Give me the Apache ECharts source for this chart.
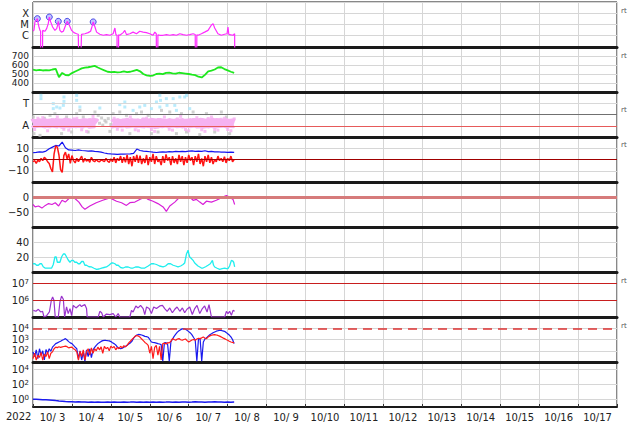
<!DOCTYPE html>
<html><head><meta charset="utf-8">
<script src="https://cdn.jsdelivr.net/npm/echarts@6/dist/echarts.min.js"></script>
<style>html,body{margin:0;padding:0;background:#fff}#c{width:634px;height:424px}</style>
</head><body><div id="c"></div>
<script>
// time in hours from 2022-10-03 00:00
const dayLabels = ['10/ 3','10/ 4','10/ 5','10/ 6','10/ 7','10/ 8','10/ 9','10/10','10/11','10/12','10/13','10/14','10/15','10/16','10/17'];
const dayLabelHours = [12,36,60,84,108,132,156,180,204,228,252,276,300,324,348];

// Panel 1: X-ray flux [h, W/m2]
const xray = [[0,2.6e-6],[0.6,3.2e-6],[1.2,1.7e-5],[2.0,2.5e-5],[2.67,3.3e-5],[3.2,1.2e-5],[3.7,6e-6],[4.3,3e-6],[4.7,2.6e-6],[4.8,1e-9],[5.8,1e-9],[5.95,3e-6],[6.7,2.7e-6],[7.4,2.5e-6],[8.4,4.3e-6],[9.4,1.2e-5],[10.05,4.6e-5],[10.9,1.7e-5],[12.1,6e-6],[13.5,3e-6],[14.6,4.3e-6],[15.1,8e-6],[15.6,1.9e-5],[16.2,6e-6],[16.6,3e-6],[17.6,2.1e-6],[18.7,2.5e-6],[19.7,6e-6],[20.5,1.2e-5],[21.1,1.9e-5],[22.4,8.5e-6],[23.8,3e-6],[25.2,1.9e-6],[26.9,1.5e-6],[27.9,1.35e-6],[28.3,1e-9],[29.3,1e-9],[29.9,1.35e-6],[32,1.5e-6],[34,1.9e-6],[35.5,2.5e-6],[36.3,6e-6],[37.1,1.7e-5],[38.2,6e-6],[39.2,2.1e-6],[41.2,1.35e-6],[43.3,1.1e-6],[45.3,1.26e-6],[47.4,1.1e-6],[49.4,1.5e-6],[50.5,4.9e-6],[51.1,1.26e-6],[51.8,1.1e-6],[51.9,1e-9],[52.7,1e-9],[52.8,1.2e-6],[53.5,1.1e-6],[55.6,1.9e-6],[56.6,3e-6],[57.6,1.26e-6],[59.7,1.5e-6],[61.7,2.1e-6],[63.8,1.5e-6],[65.8,2.5e-6],[67.9,2.1e-6],[69.9,1.9e-6],[72,1.5e-6],[74,1.1e-6],[75.1,2.1e-6],[76,1.5e-6],[76.1,1e-9],[76.9,1e-9],[77,1.2e-6],[78.2,1.1e-6],[80.2,1.1e-6],[82.3,1.26e-6],[84.3,1.1e-6],[86.4,1.26e-6],[88.4,1.1e-6],[90.5,1.5e-6],[92.5,1.26e-6],[94.6,1.1e-6],[96.6,1.26e-6],[98.7,1.5e-6],[100,1.3e-6],[100.1,1e-9],[100.9,1e-9],[101,1.2e-6],[101.7,1.1e-6],[103.8,1.5e-6],[105.8,2.1e-6],[107.9,3e-6],[109.9,8.5e-6],[111,1.2e-5],[112,4.9e-6],[114,1.5e-6],[116.1,1.1e-6],[118.1,1.35e-6],[119.6,1.5e-6],[120.2,6e-6],[120.7,1.3e-6],[121.2,1.26e-6],[123.3,1.1e-6],[124.3,1.5e-6],[124.4,1e-9]];
const flares = [[2.67,3.3e-5],[10.05,4.6e-5],[15.6,1.9e-5],[21.1,1.9e-5],[37.1,1.7e-5]];

// Panel 2: solar wind speed, every 2 h
const speed2h = [548,541,546,539,544,540,550,557,465,512,488,486,510,528,545,562,570,575,582,590,572,556,540,525,520,524,518,522,528,520,525,535,545,530,500,485,478,483,500,505,498,512,515,508,503,514,510,505,500,492,487,470,462,490,530,538,550,572,575,555,540,525,512];

// Panel 3: IMF angle (deg): hourly away-band centre, plus scattered points
const awayBand = [105,112,98,115,108,120,102,110,118,100,112,106,122,98,110,115,104,118,108,100,114,120,106,110,102,116,108,112,100,118,106,110,114,104,120,108,100,112,116,106,
null,null,null,null,null,null,null,null,null,
110,104,118,108,112,100,115,106,120,110,102,114,108,118,104,112,106,116,100,110,120,108,114,104,112,118,106,102,110,116,108,112,104,120,106,110,114,100,118,108,112,104,116,110,106,120,102,112,108,114,106,118,110,104,112,116,108,100,114,110,106,118,112,104,110,116,108,114,102,118,110,106,116,104,112,108];
const awayFuzz = [[1,60],[3,150],[6,155],[9,50],[12,140],[15,160],[19,62],[22,55],[25,145],[27,150],[30,58],[33,45],[35,140],[37,165],[50,150],[52,62],[55,55],[58,142],[60,160],[63,58],[65,50],[68,145],[70,150],[73,60],[75,45],[78,140],[81,160],[84,62],[86,55],[89,145],[91,165],[94,60],[96,50],[99,140],[101,155],[104,58],[106,45],[108,148],[110,160],[112,62],[114,55],[116,142],[118,150],[120,60],[122,50],[124,145]];
const greyPts = [[0.2,160],[0.6,27],[4.3,13],[7,150],[10.5,173],[13.5,187],[17.6,27],[20.7,160],[23.8,40],[26.9,187],[28.9,213],[31,160],[34,40],[38.2,200],[40.2,173],[41,110],[42.3,152],[43,95],[44.3,133],[45,120],[46.4,147],[47.4,45],[48,100],[49.4,187],[53.5,200],[57.6,173],[59.7,27],[63.8,187],[66.9,200],[71,173],[73,27],[77.1,40],[79.2,213],[84.3,200],[88.4,27],[91.5,187],[94.6,40],[98.7,200],[102.8,19],[106.9,187],[112,40],[116.1,200],[119.2,160],[121.2,27]];
const towardPts = [[4.9,333],[4.9,307],[12.5,267],[12.5,227],[14.6,240],[16.6,232],[18.7,253],[19.1,320],[19.1,285],[26.9,333],[26.9,293],[28.9,240],[41.2,232],[53.5,259],[56.6,280],[56.6,240],[61.7,213],[65.8,240],[68.9,253],[73,227],[76.1,280],[78.2,333],[78.6,293],[78.2,240],[82.2,307],[82.6,253],[86.4,307],[87.4,253],[88.4,213],[90.5,320],[93.5,320],[94.6,333],[96.6,227]];

// Panel 4: IMF Bt (2 h) and Bz (1 h), nT
const bt2h = [6,6.3,6.8,6.5,7.5,9.5,11,12.5,12,15.5,10.5,8.5,8.3,8,8.5,8,7.8,7.5,7.6,7.2,7,6.5,5.8,5.3,5,4.8,4.6,4.8,4.7,4.9,5,5.5,9.3,8,7.5,7.2,6.9,6.5,6.2,6.5,6.8,6.6,7,6.8,7.2,7,7.3,7,7.4,7.6,7.2,7.5,7.3,7.8,7,7.2,6.8,6.9,6.6,6.5,6.4,6.5,6.3];
const bz1h = [-2,-1,-3.5,-0.5,-2,1,-1,2,0.5,-2,
-3.5,-8,-11,5,12,11,4,-9,-11.5,3.5,
6.5,0.5,5,-3.5,3.5,-1,-3,1,-2,0.5,
3,-2.5,1,-1.5,0,-2.5,2,-1,-2,0,
-1.5,-2,-0.5,-1,-2,1,-1.5,-2.5,0.5,-2,
2,-3,1,-1,3,-3,2,-2.5,4,-4,
2,-6,3,-2,4,-3,3.5,-4,1,-3,
4,-5,2,-2,5,-4,3,-2,0,-5,
3,-3,4.5,-1,2,-5,3,-3,1,-4,
4,-2,3,-5,2,-3,4,-1,2,-5,
3,-2,5,-4,1,-6,3,-2,4,-3,
2,-4,0,-2,3,-1,1,-2,2.5,-3,
1,-1,3,-2,0];

// Panel 5: Dst (nT)
const dst = [[0,-25],[1.3,-33],[3.4,-30],[5.5,-37],[7.6,-28],[9.6,-22],[11.7,-25],[13.7,-19],[15.8,-30],[17.9,-11],[19.9,-17],[22,-6],[24,0],[26,-6],[28.3,-17],[30.3,-33],[32,-41],[35,-30],[39,-19],[43,-11],[47.4,-3],[51.5,-14],[54.6,-19],[57.6,-28],[59.7,-19],[62.8,-17],[65.8,-8],[68.9,0],[71,-8],[74,-14],[77,-22],[80.2,-33],[82.2,-48],[84.3,-30],[87.4,-17],[90.5,0],[93.5,-3],[96.6,0],[98.7,-11],[100.7,-8],[102.8,-17],[104.8,-25],[106.9,-14],[110,-17],[113,-11],[116,-3],[119.2,5],[121.2,0],[123.3,-8],[124.3,-25]];

// Panel 6
const cyan = [[0,11],[1.2,11],[2.2,9],[3.3,9],[4.3,11],[5.3,11],[6.3,7],[7.4,5.3],[9.4,5.3],[11.5,5.3],[12.5,10],[13.5,20],[14.3,20],[15,13],[16.6,13],[17.6,20],[18.7,24],[19.7,24],[20.7,20],[21.7,16],[22.8,13],[23.8,15.5],[24.8,15.5],[25.8,13],[26.9,13],[27.9,11],[28.9,11],[30,14],[31,14],[32,9],[33,9],[34.5,7],[36.1,6.7],[37.6,5],[39.2,3.6],[40.7,4],[42.3,5.3],[43.8,6],[45.3,6.7],[46.8,9],[48.4,12],[49.4,12],[50.5,11],[51.5,9],[52.5,9],[54,6],[55.6,5.3],[57,6.7],[58.7,6.7],[60.2,5.3],[61.7,5.3],[63.2,6.7],[64.8,6.7],[66.8,5.3],[68.9,5.3],[71,8],[73,11],[74.5,11],[76.1,10],[78,8],[80.2,6.7],[81.7,8],[83.3,11],[84.8,11],[86.4,9],[87.9,8],[89.4,6.7],[91,8],[92.5,10],[93.5,12],[94.6,24],[95.6,29],[96.1,24],[96.6,20],[97.6,18],[98.7,15.5],[99.7,12],[100.7,10],[101.7,8],[102.8,6.7],[103.8,5.3],[104.8,5.3],[106.4,7],[107.9,9],[109.3,11],[110.6,15.5],[111.3,9],[112,6.7],[113.5,5],[115.1,3.6],[116.6,4.5],[118.2,5.3],[119.2,4.4],[120.2,4.4],[121.2,8],[122.3,15.5],[123,15],[123.7,13],[124.3,6.7]];

// Panel 7: electron flux
const elec = [[0.2,2.5e5],[1.8,2.2e5],[3.3,2.9e5],[4.7,2.0e5],[5.9,2.2e5],[6.8,1e5],[8.4,1.2e5],[10.1,2.0e5],[11.3,1e6],[12.1,1.6e6],[12.9,1e6],[13.7,1e5],[15.6,1e5],[16.6,8e5],[17.6,1.8e6],[18.7,1.15e6],[19.5,1e5],[20.7,4e5],[21.7,1.6e5],[22.8,3.2e5],[23.8,1.2e5],[24.8,5e5],[26.5,3.5e5],[27.9,4.6e5],[28.9,5.5e5],[29.9,4.2e5],[31,5e5],[32,5.5e5],[33,3.2e5],[33.4,1e5],[40.2,1e5],[41.2,2.2e5],[42.3,1.8e5],[43.3,1e5],[45.3,1.5e5],[47.4,1.4e5],[49.4,1.6e5],[51,1e5],[52.5,1.6e5],[53.5,1e5],[59.7,1e5],[60.7,2.5e5],[61.7,2.0e5],[63.4,4.6e5],[64.8,3.5e5],[66.3,5e5],[67.9,3.2e5],[68.9,1.4e5],[70,4e5],[71.6,3.2e5],[73,1.6e5],[74.4,4e5],[76.1,3.2e5],[78.2,4.6e5],[79.8,5e5],[81.2,3.2e5],[82.7,2.2e5],[84.3,3.5e5],[85.9,1.8e5],[87.4,2.9e5],[88.8,4e5],[90.5,2.2e5],[92.1,3.5e5],[93.5,1.8e5],[94.9,2.9e5],[96.6,4e5],[98.2,1.4e5],[99.7,3.2e5],[101.1,5e5],[102.8,1.6e5],[104.4,3.2e5],[105.8,4.6e5],[107.3,2.0e5],[108.5,5.5e5],[110,1e5],[118.2,1e5],[119.2,2.2e5],[120.2,1.6e5],[121.2,2.2e5],[122.3,1.26e5],[123.3,2.5e5],[124.3,2.2e5]];

// Panel 8: hourly fluxes
const flux8Blue = [80,30,120,20,150,40,100,15,130,60,
150,90,210,300,430,500,600,700,850,1000,
1200,900,650,500,430,300,210,150,20,100,
15,80,12,120,30,150,25,120,200,300,
430,550,680,800,850,820,780,750,650,520,
430,330,210,170,150,170,210,250,300,400,
500,700,1300,1900,2500,2800,2700,2500,2200,1900,
1800,1600,1000,600,550,520,480,430,400,350,
12,500,520,350,12,600,1100,1900,3000,4500,
6000,7500,8800,9000,8200,6500,5000,3800,2600,1500,
900,12,1100,1200,12,600,1100,1400,2000,2600,
3200,4000,4700,5500,6000,6500,6300,5800,5300,4300,
3300,2500,1700,1000,430];
const flux8Red = [20,60,15,40,25,70,15,50,30,80,
20,60,80,150,210,190,230,200,220,240,
260,230,180,200,210,150,120,80,15,90,
30,120,15,80,150,40,180,60,150,100,
210,120,220,60,250,150,200,100,260,180,
240,120,200,150,250,180,280,220,300,500,
700,1000,1400,2000,2300,2000,1600,1100,800,550,
430,300,60,250,20,200,300,40,250,15,
430,480,400,520,500,700,1200,1000,850,1100,
1200,950,850,1000,1100,800,600,750,900,1000,
850,1100,1300,1200,1400,1700,1300,1200,1700,2100,
2400,2600,2700,2500,2300,2000,1700,1400,1200,1000,
850,700,600,550,500];

// Panel 9: every 2 h
const flux9 = [1.1,1.05,1.0,0.95,0.9,0.85,0.8,0.72,0.65,0.6,0.55,0.52,0.5,0.48,0.5,0.45,0.47,0.44,0.46,0.43,0.45,0.42,0.44,0.46,0.43,0.45,0.42,0.44,0.47,0.43,0.45,0.48,0.44,0.46,0.42,0.45,0.43,0.47,0.44,0.46,0.43,0.45,0.48,0.44,0.46,0.43,0.45,0.47,0.44,0.46,0.49,0.45,0.47,0.44,0.48,0.46,0.5,0.45,0.47,0.44,0.46,0.43,0.45];

const H = (arr, step) => arr.map((v, i) => [i * step, v]);

const FONT = 'DejaVu Sans';
const TOP = 2, PH = 45, N = 9;
const grids = [], xAxes = [], yAxes = [];
for (let i = 0; i < N; i++) {
  grids.push({left: 33, right: 17, top: TOP + PH * i, height: PH, show: true, borderColor: '#111', borderWidth: 1, backgroundColor: '#fff'});
  const last = i === N - 1;
  xAxes.push({
    type: 'value', gridIndex: i, min: 0, max: 360, interval: 24,
    axisLine: {show: true, onZero: false, lineStyle: {color: '#1a1a1a', width: last ? 2 : 3}},
    axisTick: {show: last, inside: true, length: 3, lineStyle: {color: '#333'}},
    axisLabel: last ? {show: true, customValues: dayLabelHours, fontSize: 10, fontFamily: FONT, color: '#222', margin: 5,
      formatter: v => dayLabels[Math.round((v - 12) / 24)] || ''} : {show: false},
    splitLine: {show: true, lineStyle: {color: '#d6d6d6', width: 1}}
  });
}
const lab = (o) => Object.assign({fontSize: 9, fontFamily: FONT, color: '#222', margin: 4, lineHeight: 9}, o);
const gridY = {show: true, lineStyle: {color: '#d6d6d6', width: 1}};
const minus = v => String(v).replace('-', '\u2212');
const rich = {b: {fontSize: 10, fontFamily: FONT, color: '#222', lineHeight: 10}, s: {fontSize: 7, fontFamily: FONT, color: '#222', verticalAlign: 'top', lineHeight: 7}};
const pow10 = (allowed) => v => {
  const e = Math.log10(v), r = Math.round(e);
  if (Math.abs(e - r) > 1e-6 || allowed.indexOf(r) < 0) return '';
  return '{b|10}{s|' + r + '}';
};
const common = {axisLine: {show: false}, axisTick: {show: false}};
yAxes.push(Object.assign({gridIndex: 0, type: 'log', logBase: 10, min: 1e-7, max: 1e-3, splitLine: gridY,
  axisLabel: lab({fontSize: 10, lineHeight: 10, formatter: v => ({'-4': 'X', '-5': 'M', '-6': 'C'})[Math.round(Math.log10(v))] || ''})}, common));
yAxes.push(Object.assign({gridIndex: 1, type: 'value', min: 300, max: 800, interval: 100, splitLine: gridY,
  axisLabel: lab({showMinLabel: false, showMaxLabel: false})}, common));
yAxes.push(Object.assign({gridIndex: 2, type: 'value', min: 0, max: 360, interval: 90, splitLine: {show: false},
  axisLabel: lab({fontSize: 10, lineHeight: 10, formatter: v => v === 270 ? 'T' : (v === 90 ? 'A' : '')})}, common));
yAxes.push(Object.assign({gridIndex: 3, type: 'value', min: -20, max: 20, interval: 10, splitLine: gridY,
  axisLabel: lab({fontSize: 10, lineHeight: 10, showMinLabel: false, showMaxLabel: false, formatter: minus})}, common));
yAxes.push(Object.assign({gridIndex: 4, type: 'value', min: -100, max: 50, interval: 50, splitLine: gridY,
  axisLabel: lab({fontSize: 10, lineHeight: 10, showMinLabel: false, showMaxLabel: false, formatter: minus})}, common));
yAxes.push(Object.assign({gridIndex: 5, type: 'value', min: 0, max: 60, interval: 20, splitLine: gridY,
  axisLabel: lab({fontSize: 10, lineHeight: 10, showMinLabel: false, showMaxLabel: false})}, common));
yAxes.push(Object.assign({gridIndex: 6, type: 'log', logBase: 10, min: 1e5, max: 5e7, splitLine: {show: false},
  axisLabel: lab({formatter: pow10([6, 7]), rich: rich})}, common));
yAxes.push(Object.assign({gridIndex: 7, type: 'log', logBase: 10, min: 10, max: 1e5, splitLine: gridY,
  axisLabel: lab({formatter: pow10([2, 3, 4]), rich: rich})}, common));
yAxes.push(Object.assign({gridIndex: 8, type: 'log', logBase: 100, min: 0.1, max: 1e5, splitLine: gridY,
  axisLabel: lab({formatter: pow10([0, 2, 4]), rich: rich})}, common));

const line = (i, data, color, width, extra) => Object.assign({
  type: 'line', xAxisIndex: i, yAxisIndex: i, data: data, symbol: 'none', showSymbol: false,
  animation: false, clip: true, connectNulls: false, lineStyle: {color: color, width: width || 1}, itemStyle: {color: color}
}, extra || {});
const scat = (i, data, color, size, extra) => Object.assign({
  type: 'scatter', xAxisIndex: i, yAxisIndex: i, data: data, symbol: 'rect', symbolSize: size,
  animation: false, itemStyle: {color: color}
}, extra || {});
const ml = (items) => ({silent: true, symbol: 'none', label: {show: false}, animation: false, data: items});

const series = [
  line(0, xray, '#ff2bff', 1.2),
  scat(0, flares, 'rgba(150,150,255,0.75)', 6, {symbol: 'circle', itemStyle: {color: 'rgba(160,160,255,0.8)', borderColor: '#2424e0', borderWidth: 1}}),
  line(1, H(speed2h, 2), '#1ee81e', 1.8),
  scat(2, greyPts, '#c4c4c4', 3),
  scat(2, towardPts, '#a9e6fb', 3),
  scat(2, awayFuzz, '#f5b0f0', 3),
  line(2, H(awayBand, 1), '#f6b2f1', 10, {markLine: ml([
    {yAxis: 270, lineStyle: {color: '#d8d8d8', width: 1, type: 'solid'}},
    {yAxis: 180, lineStyle: {color: '#707070', width: 1, type: 'solid'}},
    {yAxis: 90, lineStyle: {color: '#e65a5a', width: 1.2, type: 'solid'}}])}),
  line(3, H(bt2h, 2), '#1414f0', 1.2),
  line(3, H(bz1h, 1), '#ff1414', 1.5, {markLine: ml([{yAxis: 0, lineStyle: {color: '#a00000', width: 1, type: 'solid'}}])}),
  line(4, dst, '#d81fd8', 1.2, {z: 3, markLine: ml([{yAxis: 0, lineStyle: {color: '#d67b7b', width: 3, type: 'solid'}}])}),
  line(5, cyan, '#1feeee', 1.3),
  line(6, elec, '#9a33cc', 1.2, {markLine: ml([
    {yAxis: 1e7, lineStyle: {color: '#c81e1e', width: 1.2, type: 'solid'}},
    {yAxis: 1e6, lineStyle: {color: '#c81e1e', width: 1.2, type: 'solid'}}])}),
  line(7, H(flux8Blue, 1), '#1a1aee', 1.2),
  line(7, H(flux8Red, 1), '#ff1a1a', 1.2, {markLine: ml([{yAxis: 1e4, lineStyle: {color: '#dd3333', width: 1.5, type: [9, 6]}}])}),
  line(8, H(flux9, 2), '#1a1aee', 1.5)
];

const rtY = [11.7, 56.7, 110, 145.7, 281.7, 326.7];
const graphic = rtY.map(y => ({type: 'text', left: 621, top: y - 4, silent: true,
  style: {text: 'rt', fill: '#555', font: '7px ' + FONT}}));
graphic.push({type: 'text', left: 6, top: 411, silent: true, style: {text: '2022', fill: '#222', font: '10px ' + FONT}});

const chart = echarts.init(document.getElementById('c'), null, {renderer: 'svg', width: 634, height: 424});
chart.setOption({
  animation: false, backgroundColor: '#fff',
  grid: grids, xAxis: xAxes, yAxis: yAxes, series: series, graphic: graphic
});
</script></body></html>
